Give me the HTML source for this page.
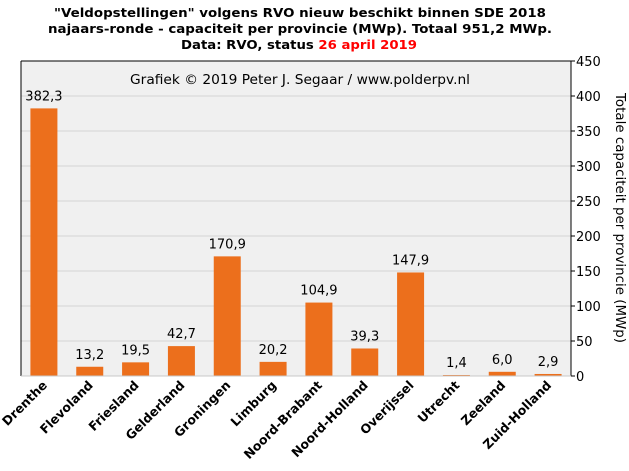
<!DOCTYPE html>
<html><head><meta charset="utf-8"><style>
body{margin:0;background:#fff;}
svg{display:block;font-family:"DejaVu Sans","Liberation Sans",sans-serif;}
</style></head><body>
<svg id="chart" width="629" height="471" viewBox="0 0 629 471">
<g font-weight="bold" font-size="12.5" text-anchor="middle" fill="#000">
<text x="300" y="17" textLength="492" lengthAdjust="spacingAndGlyphs">"Veldopstellingen"  volgens RVO nieuw beschikt binnen SDE 2018</text>
<text x="300" y="33" textLength="504" lengthAdjust="spacingAndGlyphs">najaars-ronde - capaciteit per provincie (MWp). Totaal 951,2 MWp.</text>
<text x="299" y="49" textLength="236" lengthAdjust="spacingAndGlyphs">Data: RVO, status <tspan fill="#ff0000">26 april 2019</tspan></text>
</g>
<rect x="21" y="61" width="550" height="315" fill="#f0f0f0"/>
<g id="grid"></g>
<g id="bars"></g>
<line x1="21" y1="61" x2="571" y2="61" stroke="#000"/>
<line x1="571" y1="61" x2="571" y2="376" stroke="#000"/>
<line x1="21" y1="61" x2="21" y2="376" stroke="#000"/>
<line x1="21" y1="376" x2="571" y2="376" stroke="#c8c8c8"/>
<text x="300" y="84" font-size="13" text-anchor="middle" textLength="340" lengthAdjust="spacingAndGlyphs">Grafiek  © 2019  Peter J. Segaar / www.polderpv.nl</text>
<g id="yticks"></g>
<g id="xlabels"></g>
<text transform="translate(616,218) rotate(90)" font-size="13" text-anchor="middle" textLength="250" lengthAdjust="spacingAndGlyphs">Totale capaciteit per provincie (MWp)</text>
</svg>
<script>
const categories = ["Drenthe","Flevoland","Friesland","Gelderland","Groningen","Limburg","Noord-Brabant","Noord-Holland","Overijssel","Utrecht","Zeeland","Zuid-Holland"];
const values = [382.3,13.2,19.5,42.7,170.9,20.2,104.9,39.3,147.9,1.4,6.0,2.9];
const valueLabels = ["382,3","13,2","19,5","42,7","170,9","20,2","104,9","39,3","147,9","1,4","6,0","2,9"];
const yTicks = [0,50,100,150,200,250,300,350,400,450];

const NS="http://www.w3.org/2000/svg";
const L=21,R=571,T=61,B=376,YMAX=450;
const y=v=>B-(v/YMAX)*(B-T);
const band=(R-L)/categories.length;
const xc=i=>L+band*(i+0.5);
function mk(tag,attrs,parent){const e=document.createElementNS(NS,tag);for(const k in attrs)e.setAttribute(k,attrs[k]);parent.appendChild(e);return e;}
const grid=document.getElementById('grid'),yt=document.getElementById('yticks'),bars=document.getElementById('bars'),xl=document.getElementById('xlabels');
yTicks.forEach(t=>{
  if(t>0&&t<YMAX){const g=mk('line',{x1:L,x2:R,y1:y(t),y2:y(t),stroke:'#d4d4d4'},grid);
  
  }
  const tk=mk('line',{x1:R,x2:R+4,y1:y(t),y2:y(t),stroke:'#000'},yt);
  
  
  const tx=mk('text',{x:R+5,y:y(t)+5,'font-size':13},yt);
  tx.textContent=t;
  
  
});
categories.forEach((c,i)=>{
  const w=27;
  const r=mk('rect',{x:xc(i)-w/2,y:y(values[i]),width:w,height:B-y(values[i]),fill:'#ec6f1c'},bars);
  
  
  const vt=mk('text',{x:xc(i),y:y(values[i])-8,'font-size':13,'text-anchor':'middle'},bars);
  vt.textContent=valueLabels[i];
  
  
  const lt=mk('text',{transform:`translate(${xc(i)+4},${B+10}) rotate(-45)`,'font-size':12.5,'font-weight':'bold','text-anchor':'end'},xl);
  lt.textContent=c;
  
  
});
</script>
</body></html>
